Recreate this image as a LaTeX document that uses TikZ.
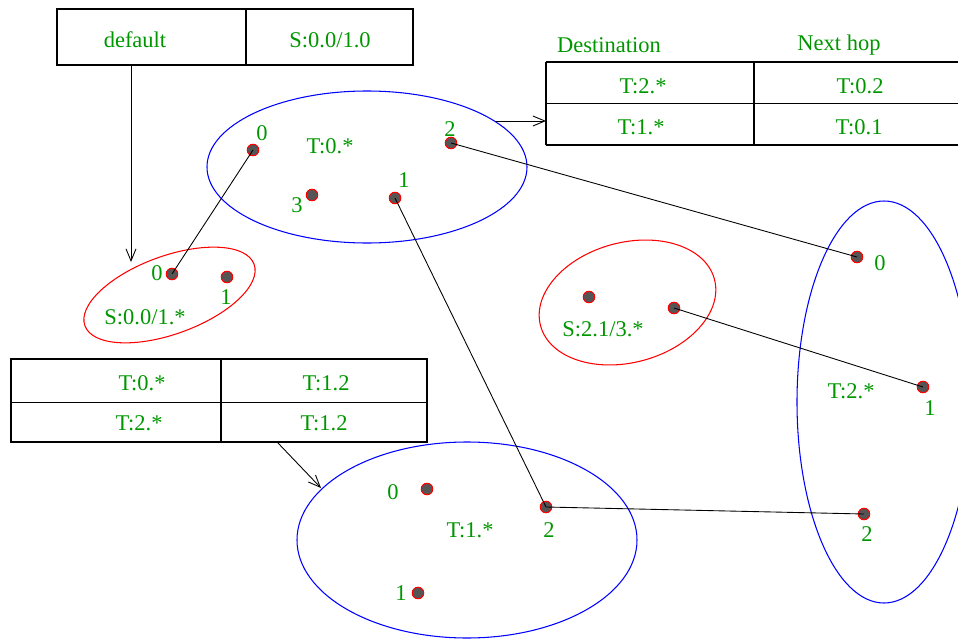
\documentclass[tikz,border=0pt]{standalone}
\usepackage{fontspec}
\setmainfont{Liberation Serif}
\usetikzlibrary{arrows.meta}
\definecolor{labgreen}{RGB}{0,150,0}
\definecolor{dotgray}{RGB}{85,85,85}
\begin{document}
\begin{tikzpicture}[x=0.02cm, y=-0.02cm,
    lbl/.style={text=labgreen, font=\fontsize{12.8}{15}\selectfont, inner sep=0pt},
    dot/.style={circle, fill=dotgray, draw=red, line width=0.6pt, inner sep=0pt, minimum size=0.23cm},
    link/.style={line width=0.5pt},
    ptr/.style={->, >={Straight Barb[length=0.24cm, width=0.2cm]}, line width=0.5pt},
    frame/.style={line width=0.6pt},
    zone/.style={line width=0.6pt}]
    \clip (0,0) rectangle (958,639);

    %Tables
    \draw[frame] (57,9) rectangle (413,65);
    \draw[frame] (246,9) -- (246,65);
    \node[lbl] (dflt) at (135,40) {default};
    \node[lbl] (dfltsrc) at (330,40) {S:0.0/1.0};

    \draw[frame] (546,62) -- (970,62) (546,103.5) -- (970,103.5) (546,145) -- (970,145);
    \draw[frame] (546,62) -- (546,145) (754,62) -- (754,145);
    \node[lbl] (hdest) at (609,45) {Destination};
    \node[lbl] (hnext) at (839,45) {Next hop};
    \node[lbl] (ra) at (643,86) {T:2.*};
    \node[lbl] (rb) at (860,86) {T:0.2};
    \node[lbl] (rc) at (641,127) {T:1.*};
    \node[lbl] (rd) at (859,127) {T:0.1};

    \draw[frame] (11,359) rectangle (427,442);
    \draw[frame] (11,402.5) -- (427,402.5) (221,359) -- (221,442);
    \node[lbl] (la) at (142,383) {T:0.*};
    \node[lbl] (lb) at (326,383) {T:1.2};
    \node[lbl] (lc) at (139,423) {T:2.*};
    \node[lbl] (ld) at (324,423) {T:1.2};

    %Zones
    \draw[zone, blue] (367,167) ellipse (160 and 76);
    \draw[zone, blue] (467,540) ellipse (170 and 98);
    \draw[zone, blue] (884,402) ellipse (87 and 201);
    \draw[zone, red, rotate around={20:(169.5,295)}] (169.5,295) ellipse (90 and 39);
    \draw[zone, red, rotate around={15:(627.5,302.5)}] (627.5,302.5) ellipse (90 and 60);

    \node[lbl] (tzero) at (330,146) {T:0.*};
    \node[lbl] (tone) at (470,530) {T:1.*};
    \node[lbl] (ttwo) at (851,391) {T:2.*};
    \node[lbl] (szero) at (145,317) {S:0.0/1.*};
    \node[lbl] (stwo) at (603,329) {S:2.1/3.*};

    %Nodes
    \node[dot] (t00) at (253,150) {};
    \node[dot] (t01) at (395,198) {};
    \node[dot] (t02) at (451,143) {};
    \node[dot] (t03) at (312,195) {};
    \node[lbl] (n00) at (262,133) {0};
    \node[lbl] (n01) at (404,180) {1};
    \node[lbl] (n02) at (450,129) {2};
    \node[lbl] (n03) at (297,205) {3};

    \node[dot] (s00) at (172,274) {};
    \node[dot] (s01) at (227,277) {};
    \node[lbl] (m00) at (157,273) {0};
    \node[lbl] (m01) at (226,297) {1};

    \node[dot] (s20) at (589,297) {};
    \node[dot] (s21) at (674,308) {};

    \node[dot] (t10) at (427,489) {};
    \node[dot] (t11) at (418,593) {};
    \node[dot] (t12) at (546,507) {};
    \node[lbl] (n10) at (393,492) {0};
    \node[lbl] (n11) at (401,593) {1};
    \node[lbl] (n12) at (549,530) {2};

    \node[dot] (t20) at (857,257) {};
    \node[dot] (t21) at (923,387) {};
    \node[dot] (t22) at (864,514) {};
    \node[lbl] (n20) at (880,263) {0};
    \node[lbl] (n21) at (930,408) {1};
    \node[lbl] (n22) at (867,534) {2};

    %Lines
    \draw[link] (t00.center) -- (s00.center);
    \draw[link] (t01.center) -- (t12.center);
    \draw[link] (t02.center) -- (t20.center);
    \draw[link] (s21.center) -- (t21.center);
    \draw[link] (t12.center) -- (t22.center);

    %Arrows
    \coordinate (dfltout) at (131,65);
    \coordinate (szeroin) at (131,262);
    \coordinate (tzeroout) at (495,121);
    \coordinate (rtabin) at (546,121);
    \coordinate (ltabout) at (278,443);
    \coordinate (tonein) at (321,488);
    \draw[ptr] (dfltout) -- (szeroin);
    \draw[ptr] (tzeroout) -- (rtabin);
    \draw[ptr] (ltabout) -- (tonein);
\end{tikzpicture}
\end{document}
